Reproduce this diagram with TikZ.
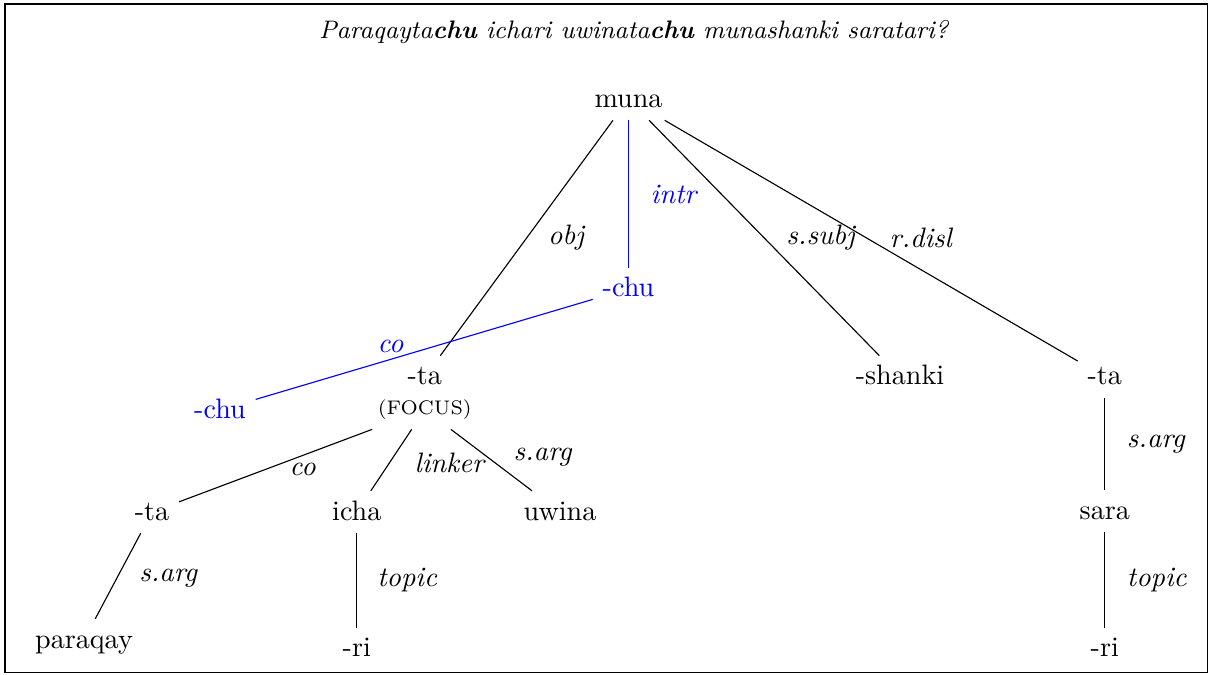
\documentclass[tikz,border=0pt]{standalone}
\usepackage{tikz}
\usetikzlibrary{positioning}

\begin{document}
\begin{tikzpicture}[
    every node/.style={font=\normalsize},
    word/.style={text height=1.6ex, text depth=0.25ex},
    blueword/.style={word, text=blue},
    lbl/.style={font=\itshape, inner sep=2pt},
    dep/.style={draw=black, line width=0.4pt},
    bluedep/.style={draw=blue, line width=0.4pt}
]
\useasboundingbox (0,0) rectangle (15.1125,-8.4375);
\draw (0.0625,-0.05) rectangle (15.09,-8.41);

% Sentence
\node[font=\small\itshape] (title) at (7.92,-0.40) {Paraqayta\textbf{chu} ichari uwinata\textbf{chu} munashanki saratari?};

% Root and first level
\node[word] (muna) at (7.856,-1.24) {muna};
\node[blueword] (chuM) at (7.856,-3.61) {-chu};
\node[word] (taF) at (5.31,-4.71) {-ta};
\node[font=\scriptsize] (focus) at (5.31,-5.12) {(FOCUS)};
\node[word] (shanki) at (11.25,-4.71) {-shanki};
\node[word] (taR) at (13.81,-4.71) {-ta};
\node[blueword] (chuL) at (2.75,-5.125) {-chu};

% Second level
\node[word] (taL) at (1.90,-6.40) {-ta};
\node[word] (icha) at (4.46,-6.40) {icha};
\node[word] (uwina) at (7.00,-6.40) {uwina};
\node[word] (sara) at (13.81,-6.39) {sara};

% Leaves
\node[word] (paraqay) at (1.05,-8.00) {paraqay};
\node[word] (riL) at (4.46,-8.11) {-ri};
\node[word] (riR) at (13.81,-8.11) {-ri};

% Dependencies from muna
\draw[dep] (muna) -- (taF) node[lbl, midway, right=0.19cm] {obj};
\draw[bluedep] (muna) -- (chuM) node[lbl, midway, right=0.2cm, text=blue] {intr};
\draw[dep] (muna) -- (shanki) node[lbl, midway, right=0.2cm] {s.subj};
\draw[dep] (muna) -- (taR) node[lbl, pos=0.62, above=0.2cm] {r.disl};

% Coordination of -chu
\draw[bluedep] (chuM) -- (chuL) node[lbl, pos=0.6, above, text=blue] {co};

% Below the focus -ta
\draw[dep] (focus) -- (taL) node[lbl, pos=0.36, below=0.02cm] {co};
\draw[dep] (focus) -- (icha) node[lbl, pos=0.55, right=0.24cm] {linker};
\draw[dep] (focus) -- (uwina) node[lbl, pos=0.45, right=0.25cm] {s.arg};

% Leaves
\draw[dep] (taL) -- (paraqay) node[lbl, pos=0.52, right=0.2cm] {s.arg};
\draw[dep] (icha) -- (riL) node[lbl, midway, right=0.18cm] {topic};
\draw[dep] (taR) -- (sara) node[lbl, midway, right=0.2cm] {s.arg};
\draw[dep] (sara) -- (riR) node[lbl, midway, right=0.2cm] {topic};

\end{tikzpicture}
\end{document}
